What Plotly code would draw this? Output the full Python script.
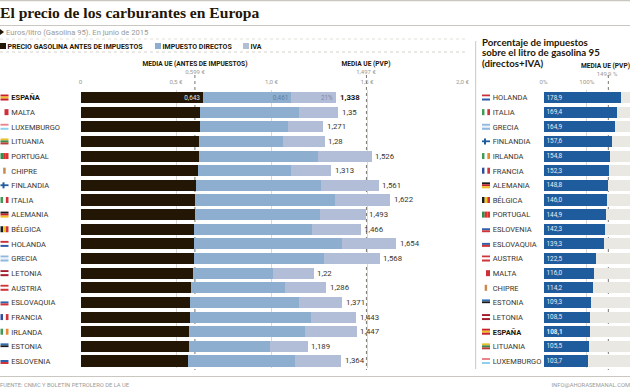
import plotly.graph_objects as go

W, H = 630, 391
countries = ["ESPAÑA","MALTA","LUXEMBURGO","LITUANIA","PORTUGAL","CHIPRE","FINLANDIA","ITALIA","ALEMANIA","BÉLGICA","HOLANDA","GRECIA","LETONIA","AUSTRIA","ESLOVAQUIA","FRANCIA","IRLANDA","ESTONIA","ESLOVENIA"]
antes    = [0.643,0.626,0.625,0.623,0.623,0.617,0.607,0.601,0.601,0.596,0.594,0.594,0.587,0.580,0.575,0.573,0.570,0.570,0.564]
directos = [0.461,0.518,0.461,0.435,0.620,0.485,0.652,0.731,0.654,0.616,0.775,0.681,0.421,0.491,0.569,0.632,0.605,0.422,0.559]
iva      = [0.234,0.206,0.185,0.222,0.283,0.211,0.302,0.290,0.238,0.254,0.285,0.293,0.212,0.215,0.227,0.238,0.272,0.197,0.241]
totales  = [1.338,1.35,1.271,1.28,1.526,1.313,1.561,1.622,1.493,1.466,1.654,1.568,1.22,1.286,1.371,1.443,1.447,1.189,1.364]
totales_txt = ["1,338","1,35","1,271","1,28","1,526","1,313","1,561","1,622","1,493","1,466","1,654","1,568","1,22","1,286","1,371","1,443","1,447","1,189","1,364"]

paises2 = ["HOLANDA","ITALIA","GRECIA","FINLANDIA","IRLANDA","FRANCIA","ALEMANIA","BÉLGICA","PORTUGAL","ESLOVENIA","ESLOVAQUIA","AUSTRIA","MALTA","CHIPRE","ESTONIA","LETONIA","ESPAÑA","LITUANIA","LUXEMBURGO"]
porcentaje = [178.9,169.4,164.9,157.6,154.8,152.3,148.8,146.0,144.9,142.3,139.3,122.5,116.0,114.2,109.3,108.5,108.1,105.5,103.7]
porcentaje_txt = ["178,9","169,4","164,9","157,6","154,8","152,3","148,8","146,0","144,9","142,3","139,3","122,5","116,0","114,2","109,3","108,5","<b>108,1</b>","105,5","103,7"]

ticks1 = [0,0.5,1.0,1.5,2.0]; ticks1_txt = ["0","0,5 €","1,0 €","1,5 €","2,0 €"]
ticks2 = [0,100,200]; ticks2_txt = ["0%","100%","200%"]
media_antes, media_pvp, media_pct = 0.599, 1.497, 149.9

flags = {
 "ESPAÑA":("h",["#c8202c","#f0c020","#c8202c"]),
 "MALTA":("v",["#ffffff","#cf2f3a"]),
 "LUXEMBURGO":("h",["#e8848a","#ffffff","#8fd0ee"]),
 "LITUANIA":("h",["#e8c030","#3f8a4a","#b8403a"]),
 "PORTUGAL":("v",["#2f8f4a","#d8332f","#d8332f"]),
 "CHIPRE":("v",["#ffffff","#c98a50","#ffffff"]),
 "FINLANDIA":("h",["#ffffff","#1f5c9e","#ffffff"]),
 "ITALIA":("v",["#3f9a55","#ffffff","#d0343a"]),
 "ALEMANIA":("h",["#1a1a1a","#c8202c","#f0c020"]),
 "BÉLGICA":("v",["#1a1a1a","#f0c820","#d0343a"]),
 "HOLANDA":("h",["#c8303a","#ffffff","#2f5ca8"]),
 "GRECIA":("h",["#8fb8de","#e8f0f8","#8fb8de"]),
 "LETONIA":("h",["#a02030","#ffffff","#a02030"]),
 "AUSTRIA":("h",["#d0343a","#ffffff","#d0343a"]),
 "ESLOVAQUIA":("h",["#ffffff","#3060a8","#d0343a"]),
 "FRANCIA":("v",["#2f4f9e","#ffffff","#d0343a"]),
 "IRLANDA":("v",["#3f9a55","#ffffff","#e88a30"]),
 "ESTONIA":("h",["#2f6fb0","#1a1a1a","#ffffff"]),
 "ESLOVENIA":("h",["#ffffff","#3060a8","#d0343a"]),
}

DARK, BLUE, LILAC, BLUE2, GREY = "#231605", "#8eaecf", "#b2bdd8", "#1f5c9e", "#e9e8e3"
SANS, SERIF = "Roboto", "Liberation Serif"
TXT = "#3a342c"; SOFT = "#9a9a96"

px = lambda x: x / W
py = lambda y: 1 - y / H
TOP, BOT = 90.2, 368.3
RH = (BOT - TOP) / 19

fig = go.Figure()
def bar(x, c, txt=None, pos="inside", tc="#fff", ax="x", ay="y", y=countries, ts=6.4, anchor="end"):
    fig.add_trace(go.Bar(x=x, y=y, orientation="h", xaxis=ax, yaxis=ay, width=0.76,
        marker=dict(color=c, line=dict(width=0)), text=txt, textposition=pos, insidetextanchor=anchor,
        textangle=0, constraintext="none", cliponaxis=False, textfont=dict(family=SANS, size=ts, color=tc), showlegend=False))

blank = [""] * 18
bar(antes, DARK, ["0,643"] + blank, tc="#e8e6e0")
bar(directos, BLUE, ["0,461"] + blank, tc="#5f7f9f")
bar(iva, LILAC, ["21%"] + blank, tc="#7f88a0")
bar(porcentaje, BLUE2, porcentaje_txt, tc="#e8eef6", ax="x2", ay="y2", y=paises2, anchor="start")
bar([200 - v for v in porcentaje], GREY, None, ax="x2", ay="y2", y=paises2)

shapes, ann = [], []
def line(x0, y0, x1, y1, c="#c9c7c0", w=1, d="solid"):
    shapes.append(dict(type="line", xref="paper", yref="paper", x0=px(x0), x1=px(x1), y0=py(y0), y1=py(y1),
                       line=dict(color=c, width=w, dash=d), layer="above"))
POS = {"left": "middle right", "center": "middle center", "right": "middle left"}
def text(x, y, s, size=7.5, color=TXT, anchor="left", fam=SANS):
    fig.add_trace(go.Scatter(x=[x], y=[y + 1], text=[s], mode="text", textposition=POS[anchor], xaxis="x3", yaxis="y3",
                             textfont=dict(family=fam, size=size, color=color), showlegend=False, hoverinfo="skip", cliponaxis=False))
def flag(x, yc, name):
    o, cols = flags[name]
    fw, fh = 8, 6
    n = len(cols)
    for i, c in enumerate(cols):
        if o == "h":
            x0, x1, y0, y1 = x, x + fw, yc - fh/2 + i*fh/n, yc - fh/2 + (i+1)*fh/n
        else:
            x0, x1, y0, y1 = x + i*fw/n, x + (i+1)*fw/n, yc - fh/2, yc + fh/2
        shapes.append(dict(type="rect", xref="paper", yref="paper", x0=px(x0), x1=px(x1), y0=py(y0), y1=py(y1),
                           fillcolor=c, line=dict(width=0), layer="above"))
    if name == "FINLANDIA":
        shapes.append(dict(type="rect", xref="paper", yref="paper", x0=px(x+2), x1=px(x+4), y0=py(yc-3), y1=py(yc+3),
                           fillcolor="#1f5c9e", line=dict(width=0), layer="above"))

for i, c in enumerate(countries):
    yc = TOP + RH * (i + 0.5)
    flag(0.5, yc, c)
    text(11.3, yc, f"<b>{c}</b>" if c == "ESPAÑA" else c, color=DARK if c == "ESPAÑA" else TXT)
    ann.append(dict(xref="x", yref="y", x=totales[i], y=c, text=f"<b>{totales_txt[i]}</b>" if c == "ESPAÑA" else totales_txt[i],
                    showarrow=False, xanchor="left", xshift=1.5, font=dict(family=SANS, size=7.8, color=DARK if c == "ESPAÑA" else TXT)))
for i, c in enumerate(paises2):
    yc = TOP + RH * (i + 0.5)
    flag(482, yc, c)
    text(492.7, yc, f"<b>{c}</b>" if c == "ESPAÑA" else c, color=DARK if c == "ESPAÑA" else TXT)

# page rules
line(0, 0.5, 630, 0.5, w=1.5)
line(0, 25.5, 630, 25.5)
line(0, 39, 468, 39, c="#e2e0da", d="dot")
line(0, 52, 468, 52, c="#d4d2cc", d="dot")
line(0, 376.5, 630, 376.5, w=1.2)
line(475.7, 41, 475.7, 369)

# mean lines (behind the bars, as in the reference)
for ax, v in (("x", media_antes), ("x", media_pvp), ("x2", media_pct)):
    shapes.append(dict(type="line", xref=ax, yref="paper", x0=v, x1=v, y0=py(75), y1=py(370),
                       line=dict(color="#77776f", width=1, dash="dot"), layer="below"))

text(0, 13, "<b>El precio de los carburantes en Europa</b>", size=15.6, color=DARK, fam=SERIF)
shapes.append(dict(type="path", xref="paper", yref="paper",
    path=f"M {px(0)} {py(29)} L {px(4)} {py(32)} L {px(0)} {py(35)} Z", fillcolor=DARK, line=dict(width=0)))
text(6, 32, "Euros/litro (Gasolina 95). En junio de 2015", size=7.6, color=SOFT)
for x, c, s in ((0, DARK, "PRECIO GASOLINA ANTES DE IMPUESTOS"), (155, BLUE, "IMPUESTO DIRECTOS"), (243, LILAC, "IVA")):
    shapes.append(dict(type="rect", xref="paper", yref="paper", x0=px(x), x1=px(x+6), y0=py(43), y1=py(49),
                       fillcolor=c, line=dict(width=0)))
    text(x + 7.5, 46, f"<b>{s}</b>", size=7, color=DARK)
text(195, 63, "<b>MEDIA UE (ANTES DE IMPUESTOS)</b>", size=6.6, color=DARK, anchor="center")
text(195, 71, "0,599 €", size=6, color=SOFT, anchor="center")
text(366, 63.5, "<b>MEDIA UE (PVP)</b>", size=6.6, color=DARK, anchor="center")
text(366, 71.5, "1,497 €", size=6, color=SOFT, anchor="center")
text(630, 65, "<b>MEDIA UE (PVP)</b>", size=6.6, color=DARK, anchor="right")
text(607, 73, "149,9 %", size=6, color=SOFT, anchor="center")
text(482, 42.5, "<b>Porcentaje de impuestos</b>", size=9.7, color=DARK, fam="Lato")
text(482, 53, "<b>sobre el litro de gasolina 95</b>", size=9.7, color=DARK, fam="Lato")
text(482, 63.5, "<b>(directos+IVA)</b>", size=9.7, color=DARK, fam="Lato")
text(0, 385, "FUENTE: CNMC Y BOLETÍN PETROLERO DE LA UE", size=5.8, color=SOFT)
text(630, 385, "INFO@AHORASEMANAL.COM", size=5.8, color=SOFT, anchor="right")

axbase = dict(showline=False, zeroline=False, side="top", ticks="", showgrid=True, gridcolor="#d9d8d3", gridwidth=1,
              tickfont=dict(family=SANS, size=6.2, color=SOFT), ticklabelstandoff=4, tickangle=0, automargin=False)
ybase = dict(type="category", autorange="reversed", showticklabels=False, showgrid=False, zeroline=False, showline=False,
             domain=[py(BOT), py(TOP)], automargin=False)
fig.update_layout(
    width=W, height=H, margin=dict(l=0, r=0, t=0, b=0), autosize=False, paper_bgcolor="#fff", plot_bgcolor="rgba(0,0,0,0)",
    barmode="stack", bargap=0.24, showlegend=False, shapes=shapes, annotations=ann,
    xaxis=dict(axbase, domain=[px(80.5), px(462.5)], range=[0, 2], tickvals=ticks1, ticktext=ticks1_txt),
    xaxis2=dict(axbase, domain=[px(543.5), 1], range=[0, 200], tickvals=ticks2, ticktext=ticks2_txt, anchor="y2"),
    xaxis3=dict(domain=[0, 1], range=[0, W], visible=False, anchor="y3", automargin=False),
    yaxis=dict(ybase, categoryarray=countries, categoryorder="array"),
    yaxis2=dict(ybase, categoryarray=paises2, categoryorder="array", anchor="x2"),
    yaxis3=dict(domain=[0, 1], range=[H, 0], visible=False, anchor="x3", automargin=False),
)
fig.write_html("out.html", config=dict(displayModeBar=False),
               post_script="document.body.style.margin='0';document.documentElement.style.overflow='hidden';")
